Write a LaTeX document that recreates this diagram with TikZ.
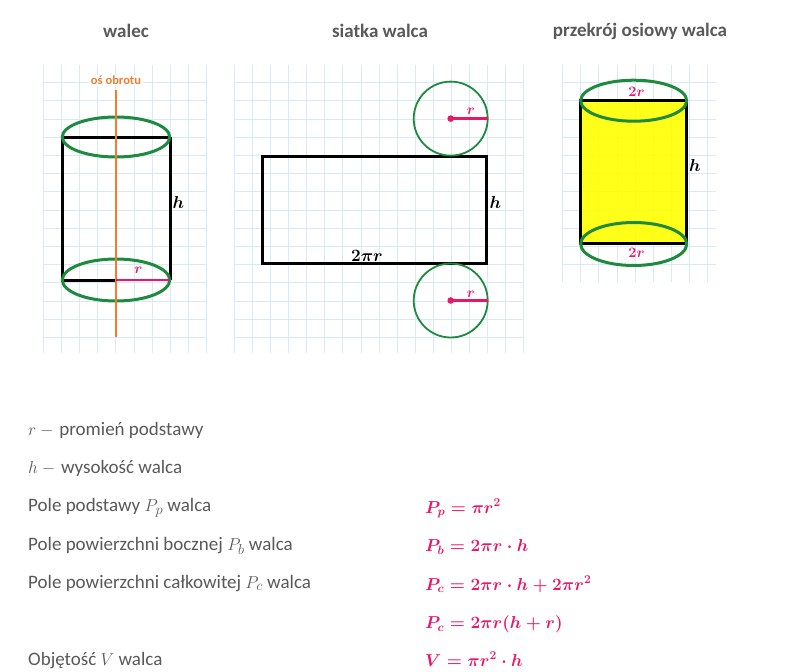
\documentclass[tikz,border=0pt]{standalone}
\usepackage[no-math]{fontspec}
\setmainfont{Carlito}
\definecolor{gridc}{RGB}{214,234,250}
\definecolor{grn}{RGB}{30,138,62}
\definecolor{pnk}{RGB}{234,22,104}
\definecolor{org}{RGB}{240,125,45}
\definecolor{txt}{RGB}{89,89,89}
\definecolor{ylw}{RGB}{255,255,0}
\tikzset{
  gridline/.style={draw=gridc, line width=0.9pt},
  blk/.style={draw=black, line width=3pt},
  ell/.style={draw=grn, line width=3pt},
  circ/.style={draw=grn, line width=1.8pt},
  rad/.style={draw=pnk, line width=2.6pt},
  title/.style={text=txt, font=\fontsize{19}{22}\selectfont\bfseries, inner sep=0pt},
  lab/.style={font=\fontsize{16}{19}\selectfont\boldmath, inner sep=0pt},
  plab/.style={text=pnk, font=\fontsize{14.5}{16}\selectfont\boldmath, inner sep=0pt},
  body/.style={text=txt, font=\fontsize{19}{22}\selectfont, inner sep=0pt, anchor=base west},
  formula/.style={text=pnk, font=\fontsize{17.5}{21}\selectfont\boldmath, inner sep=0pt, anchor=base west}
}
\begin{document}
\begin{tikzpicture}[x=1pt,y=-1pt]
\fill[white] (0,0) rectangle (801,672);
\useasboundingbox (0,0) rectangle (801,672);
% titles
\node[title] (t1) at (126,31) {walec};
\node[title] (t2) at (380,31) {siatka walca};
\node[title] (t3) at (640,31) {przekrój osiowy walca};
% grid 1
\foreach \i in {0,...,9} \draw[gridline] (43.3+18.15*\i,65) -- (43.3+18.15*\i,353);
\foreach \j in {0,...,14} \draw[gridline] (43.3,82.7+18.2*\j) -- (207,82.7+18.2*\j);
% grid 2
\foreach \i in {0,...,16} \draw[gridline] (234.7+18.04*\i,65) -- (234.7+18.04*\i,353);
\foreach \j in {0,...,14} \draw[gridline] (234.7,82.7+18.2*\j) -- (523.3,82.7+18.2*\j);
% grid 3
\foreach \i in {0,...,8} \draw[gridline] (562.7+18.1*\i,65) -- (562.7+18.1*\i,282);
\foreach \j in {0,...,10} \draw[gridline] (562.7,82.7+18.2*\j) -- (716,82.7+18.2*\j);
% cylinder
\draw[blk] (62.3,137) -- (170,137);
\draw[blk] (62.3,137) -- (62.3,280) -- (116,280);
\draw[blk] (170,137) -- (170,280);
\draw[ell] (116,137) ellipse [x radius=53.7pt, y radius=20pt];
\draw[ell] (116,280) ellipse [x radius=53.7pt, y radius=21pt];
\draw[draw=org, line width=2pt] (116,90) -- (116,337);
\draw[rad] (116,280) -- (170,280);
\node[text=org, fill=white, font=\fontsize{12.5}{14}\selectfont\bfseries, inner sep=1.5pt] (axis) at (116,80.5) {oś obrotu};
\node[plab] (r1) at (138.5,270.5) {$r$};
\node[lab] (h1) at (178.5,202) {$h$};
% net
\draw[blk] (262.3,156.3) rectangle (486.7,263.3);
\draw[circ] (450.7,118.6) circle [radius=37pt];
\draw[circ] (450.7,300.5) circle [radius=37pt];
\draw[rad] (450.7,118.6) -- (487.7,118.6);
\draw[rad] (450.7,300.5) -- (487.7,300.5);
\fill[pnk] (450.7,118.6) circle [radius=3.3pt];
\fill[pnk] (450.7,300.5) circle [radius=3.3pt];
\node[plab] (r2) at (471,111.5) {$r$};
\node[plab] (r3) at (471,294) {$r$};
\node[lab] (h2) at (495.5,202.5) {$h$};
\node[lab] (pr) at (367,256) {$2\pi r$};
% axial section
\fill[ylw, fill opacity=0.9] (580.7,100.7) rectangle (686.7,243.3);
\draw[blk] (580.7,100.7) rectangle (686.7,243.3);
\draw[ell] (633.7,100.7) ellipse [x radius=53pt, y radius=20.5pt];
\draw[ell] (633.7,244) ellipse [x radius=53pt, y radius=21.5pt];
\node[plab, font=\fontsize{13.5}{15}\selectfont\boldmath] (d1) at (636.5,91.5) {$2r$};
\node[plab, font=\fontsize{13.5}{15}\selectfont\boldmath] (d2) at (636.5,252.5) {$2r$};
\node[lab] (h3) at (695,165.5) {$h$};
% text
\node[body] (l1) at (28,435) {$r-{}$\kern2pt promień podstawy};
\node[body] (l2) at (28,473.3) {$h-{}$\kern2pt wysokość walca};
\node[body] (l3) at (28,511.7) {Pole podstawy $P_p$ walca};
\node[body] (l4) at (28,550) {Pole powierzchni bocznej $P_b$ walca};
\node[body] (l5) at (28,588.3) {Pole powierzchni całkowitej $P_c$ walca};
\node[body] (l6) at (28,665) {Objętość $V$ walca};
\node[formula] (f1) at (425,513) {$P_p=\pi r^2$};
\node[formula] (f2) at (425,551.5) {$P_b=2\pi r\cdot h$};
\node[formula] (f3) at (425,590) {$P_c=2\pi r\cdot h+2\pi r^2$};
\node[formula] (f4) at (425,628.5) {$P_c=2\pi r(h+r)$};
\node[formula] (f5) at (425,666) {$V=\pi r^2\cdot h$};
\end{tikzpicture}
\end{document}
